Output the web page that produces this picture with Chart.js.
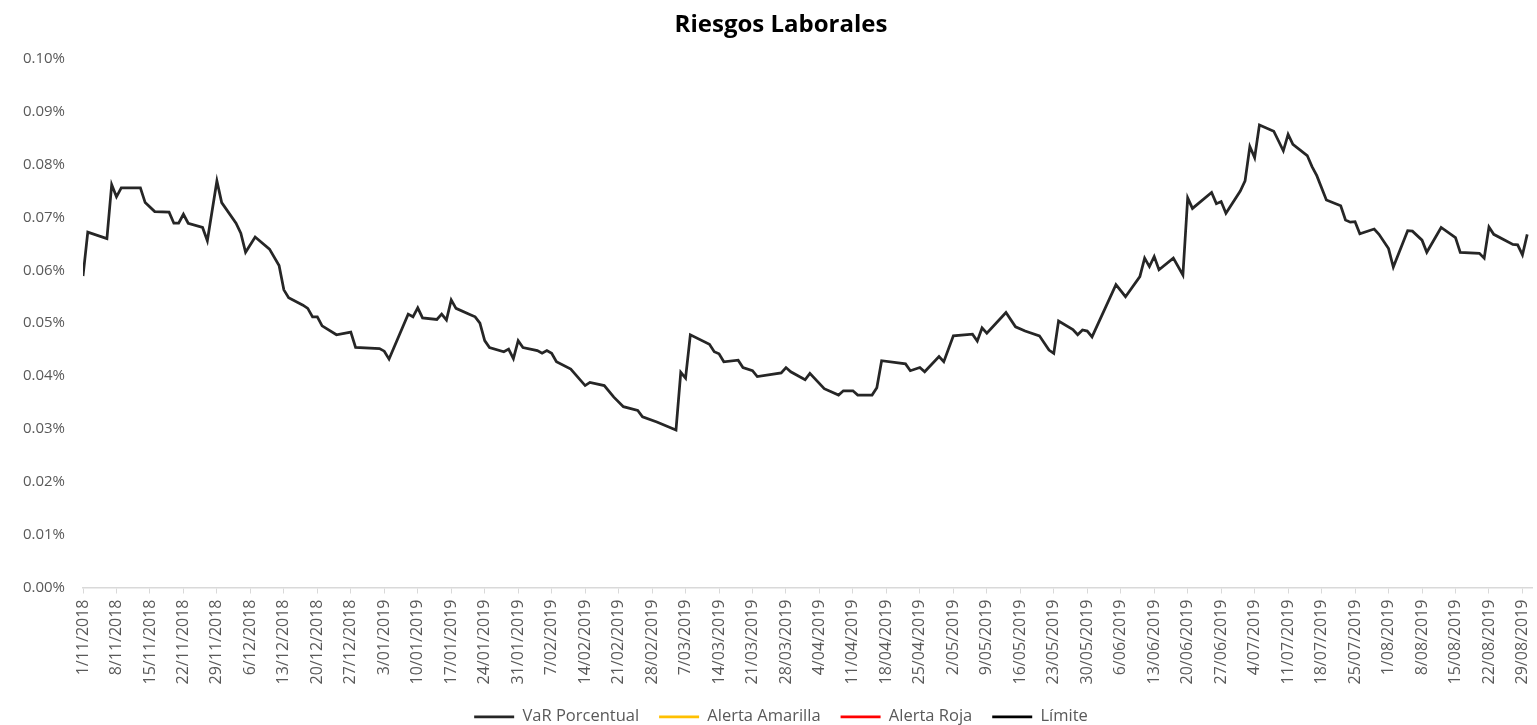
<!DOCTYPE html>
<html>
<head>
<meta charset="utf-8">
<title>Riesgos Laborales</title>
<script src="https://cdn.jsdelivr.net/npm/chart.js@4.4.0/dist/chart.umd.min.js"></script>
<style>
  html, body { margin: 0; padding: 0; background: #fff; }
  #wrap { width: 1537px; height: 725px; position: relative; }
</style>
</head>
<body>
<div id="wrap"><canvas id="riesgos"></canvas></div>
<script>
// fechas de cada observación (d/mm/aaaa)
var fechas = [
  '1/11/2018','2/11/2018','6/11/2018','7/11/2018','8/11/2018','9/11/2018','13/11/2018','14/11/2018','16/11/2018',
  '19/11/2018','20/11/2018','21/11/2018','22/11/2018','23/11/2018','26/11/2018','27/11/2018','29/11/2018','30/11/2018',
  '3/12/2018','4/12/2018','5/12/2018','7/12/2018','10/12/2018','12/12/2018','13/12/2018','14/12/2018','17/12/2018',
  '18/12/2018','19/12/2018','20/12/2018','21/12/2018','24/12/2018','27/12/2018','28/12/2018','2/01/2019','3/01/2019',
  '4/01/2019','8/01/2019','9/01/2019','10/01/2019','11/01/2019','14/01/2019','15/01/2019','16/01/2019','17/01/2019',
  '18/01/2019','21/01/2019','22/01/2019','23/01/2019','24/01/2019','25/01/2019','28/01/2019','29/01/2019','30/01/2019',
  '31/01/2019','1/02/2019','4/02/2019','5/02/2019','6/02/2019','7/02/2019','8/02/2019','11/02/2019','14/02/2019',
  '15/02/2019','18/02/2019','20/02/2019','22/02/2019','25/02/2019','26/02/2019','1/03/2019','5/03/2019','6/03/2019',
  '7/03/2019','8/03/2019','12/03/2019','13/03/2019','14/03/2019','15/03/2019','18/03/2019','19/03/2019','21/03/2019',
  '22/03/2019','27/03/2019','28/03/2019','29/03/2019','1/04/2019','2/04/2019','5/04/2019','8/04/2019','9/04/2019',
  '11/04/2019','12/04/2019','15/04/2019','16/04/2019','17/04/2019','22/04/2019','23/04/2019','25/04/2019','26/04/2019',
  '29/04/2019','30/04/2019','2/05/2019','6/05/2019','7/05/2019','8/05/2019','9/05/2019','13/05/2019','15/05/2019',
  '17/05/2019','20/05/2019','22/05/2019','23/05/2019','24/05/2019','27/05/2019','28/05/2019','29/05/2019','30/05/2019',
  '31/05/2019','5/06/2019','7/06/2019','10/06/2019','11/06/2019','12/06/2019','13/06/2019','14/06/2019','17/06/2019',
  '19/06/2019','20/06/2019','21/06/2019','25/06/2019','26/06/2019','27/06/2019','28/06/2019','1/07/2019','2/07/2019',
  '3/07/2019','4/07/2019','5/07/2019','8/07/2019','10/07/2019','11/07/2019','12/07/2019','15/07/2019','16/07/2019',
  '17/07/2019','19/07/2019','22/07/2019','23/07/2019','24/07/2019','25/07/2019','26/07/2019','29/07/2019','30/07/2019',
  '1/08/2019','2/08/2019','5/08/2019','6/08/2019','8/08/2019','9/08/2019','12/08/2019','15/08/2019','16/08/2019',
  '20/08/2019','21/08/2019','22/08/2019','23/08/2019','27/08/2019','28/08/2019','29/08/2019','30/08/2019'
];

// VaR porcentual (en %)
var varPorcentual = [
  0.0589,0.0672,0.0660,0.0762,0.0739,0.0756,0.0756,0.0728,0.0711,
  0.0710,0.0689,0.0689,0.0706,0.0689,0.0681,0.0656,0.0769,0.0728,
  0.0689,0.0670,0.0634,0.0663,0.0640,0.0609,0.0563,0.0548,0.0534,
  0.0528,0.0512,0.0512,0.0495,0.0478,0.0483,0.0454,0.0452,0.0447,
  0.0432,0.0517,0.0512,0.0529,0.0510,0.0507,0.0517,0.0506,0.0544,
  0.0528,0.0516,0.0512,0.0500,0.0467,0.0454,0.0446,0.0451,0.0433,
  0.0467,0.0454,0.0448,0.0443,0.0448,0.0443,0.0427,0.0413,0.0382,
  0.0388,0.0382,0.0360,0.0342,0.0335,0.0323,0.0313,0.0298,0.0407,
  0.0396,0.0478,0.0460,0.0446,0.0442,0.0427,0.0430,0.0416,0.0410,
  0.0399,0.0406,0.0416,0.0408,0.0393,0.0405,0.0376,0.0364,0.0372,
  0.0372,0.0364,0.0364,0.0378,0.0429,0.0423,0.0410,0.0416,0.0408,
  0.0437,0.0427,0.0476,0.0479,0.0466,0.0491,0.0481,0.0520,0.0493,
  0.0485,0.0476,0.0449,0.0443,0.0504,0.0488,0.0478,0.0487,0.0485,
  0.0474,0.0573,0.0550,0.0588,0.0623,0.0607,0.0626,0.0601,0.0623,
  0.0591,0.0737,0.0717,0.0747,0.0726,0.0730,0.0708,0.0750,0.0769,
  0.0834,0.0813,0.0875,0.0863,0.0826,0.0857,0.0838,0.0817,0.0796,
  0.0779,0.0733,0.0722,0.0695,0.0691,0.0692,0.0669,0.0678,0.0668,
  0.0641,0.0606,0.0675,0.0674,0.0657,0.0634,0.0681,0.0662,0.0634,
  0.0632,0.0623,0.0682,0.0668,0.0649,0.0648,0.0629,0.0668
];

// las otras series no tienen valores visibles en el rango
var alertaAmarilla = [];
var alertaRoja = [];
var limite = [];

var fechaInicio = '1/11/2018';
var fechaFin = '31/08/2019';
var pasoDias = 7;
var yTicks = [0, 0.01, 0.02, 0.03, 0.04, 0.05, 0.06, 0.07, 0.08, 0.09, 0.10];

var DIA = 86400000;
function parseFecha(s) {
    var p = s.split('/');
    return Date.UTC(+p[2], +p[1] - 1, +p[0]);
}
var t0 = parseFecha(fechaInicio);
function dias(s) { return Math.round((parseFecha(s) - t0) / DIA); }
function formatoFecha(n) {
    var d = new Date(t0 + n * DIA);
    var mm = d.getUTCMonth() + 1;
    return d.getUTCDate() + '/' + (mm < 10 ? '0' + mm : mm) + '/' + d.getUTCFullYear();
}

var puntos = [];
for (var i in fechas) {
    puntos.push({x: dias(fechas[i]), y: varPorcentual[i]});
}
var maxDia = dias(fechaFin);

var textColor = '#595959';
var fontFam = "'Open Sans', 'Liberation Sans', sans-serif";

// en el original título y leyenda quedan algo a la derecha del centro
var desplazar = {
    id: 'desplazar',
    afterLayout: function(c) {
        [c.titleBlock, c.legend].forEach(function(b) {
            if (b) { b.left += 15; b.right += 15; }
        });
    }
};

var context = document.getElementById('riesgos').getContext('2d');
var chart = new Chart(context, {
    type: 'line',
    data: {
        datasets: [{
            label: 'VaR Porcentual',
            data: puntos,
            borderColor: '#262626',
            backgroundColor: '#262626',
            borderWidth: 2.75,
            pointRadius: 0,
            tension: 0
        }, {
            label: 'Alerta Amarilla',
            data: alertaAmarilla,
            borderColor: '#FFC000',
            backgroundColor: '#FFC000',
            borderWidth: 2.75,
            pointRadius: 0
        }, {
            label: 'Alerta Roja',
            data: alertaRoja,
            borderColor: '#FF0000',
            backgroundColor: '#FF0000',
            borderWidth: 2.75,
            pointRadius: 0
        }, {
            label: 'Límite',
            data: limite,
            borderColor: '#000000',
            backgroundColor: '#000000',
            borderWidth: 2.75,
            pointRadius: 0
        }]
    },
    options: {
        responsive: true,
        maintainAspectRatio: false,
        animation: false,
        layout: { padding: { left: 0, right: 5, top: 0, bottom: -10 } },
        plugins: {
            title: {
                display: true,
                text: 'Riesgos Laborales',
                color: '#000',
                font: { family: fontFam, size: 24, weight: 'bold' },
                padding: { top: 11, bottom: 19 }
            },
            legend: {
                position: 'bottom',
                labels: {
                    color: textColor,
                    font: { family: fontFam, size: 16.5 },
                    usePointStyle: true,
                    pointStyle: 'line',
                    pointStyleWidth: 40,
                    padding: 20,
                    boxHeight: 3
                }
            },
            tooltip: { enabled: false }
        },
        scales: {
            x: {
                type: 'linear',
                min: 0,
                max: maxDia,
                afterBuildTicks: function(scale) {
                    var t = [];
                    for (var d = 0; d <= maxDia; d += pasoDias) t.push({value: d});
                    scale.ticks = t;
                },
                afterFit: function(scale) {
                    scale.height = 101;
                    scale.paddingLeft = 0;
                    scale.paddingRight = 0;
                },
                grid: { display: true, drawOnChartArea: false, drawTicks: true, tickLength: 6, color: '#d9d9d9' },
                border: { display: true, color: '#d9d9d9', width: 1.5 },
                ticks: {
                    color: textColor,
                    font: { family: fontFam, size: 16 },
                    minRotation: 90,
                    maxRotation: 90,
                    autoSkip: false,
                    padding: 6,
                    callback: function(v) { return formatoFecha(v); }
                }
            },
            y: {
                min: 0,
                max: 0.10,
                afterBuildTicks: function(scale) {
                    scale.ticks = yTicks.map(function(v) { return {value: v}; });
                },
                afterFit: function(scale) { scale.width = 83; },
                grid: { display: false, drawTicks: false },
                border: { display: false },
                ticks: {
                    color: textColor,
                    font: { family: fontFam, size: 15 },
                    padding: 18,
                    callback: function(v) { return v.toFixed(2) + '%'; }
                }
            }
        }
    },
    plugins: [desplazar]
});
</script>
</body>
</html>
